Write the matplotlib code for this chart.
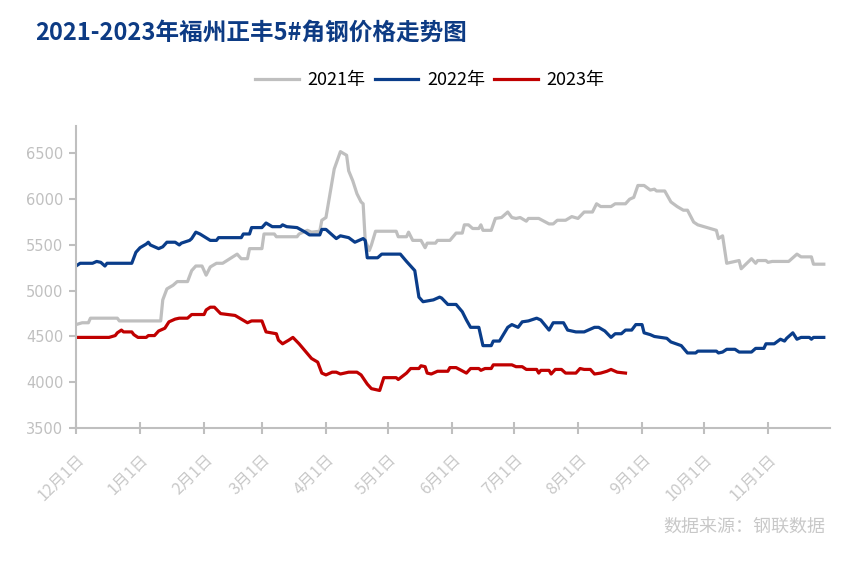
import pandas as pd
import matplotlib
matplotlib.use('Agg')
import matplotlib.pyplot as plt

plt.rcParams['font.family'] = ['Noto Sans CJK SC', 'DejaVu Sans']

# 各年度价格（12月1日 至 次年11月底），日期为 月-日
dates_2021 = ['12-01', '12-04', '12-07', '12-08', '12-21', '12-22', '01-11', '01-12', '01-14', '01-17',
              '01-19', '01-24', '01-26', '01-28', '01-31', '02-02', '02-04', '02-07', '02-10', '02-17',
              '02-19', '02-22', '02-23', '03-01', '03-02', '03-07', '03-08', '03-18', '03-19', '03-23',
              '03-25', '03-29', '03-30', '04-01', '04-05', '04-08', '04-11', '04-12', '04-14', '04-16',
              '04-18', '04-19', '04-20', '04-22', '04-23', '04-25', '05-05', '05-06', '05-10', '05-11',
              '05-13', '05-17', '05-19', '05-20', '05-24', '05-25', '05-31', '06-03', '06-06', '06-07',
              '06-09', '06-11', '06-14', '06-15', '06-16', '06-20', '06-22', '06-25', '06-28', '06-30',
              '07-02', '07-04', '07-07', '07-08', '07-13', '07-18', '07-20', '07-22', '07-26', '07-29',
              '08-01', '08-04', '08-08', '08-10', '08-12', '08-17', '08-19', '08-24', '08-26', '08-28',
              '08-30', '09-02', '09-05', '09-07', '09-08', '09-12', '09-15', '09-18', '09-21', '09-23',
              '09-26', '09-28', '10-07', '10-08', '10-10', '10-12', '10-14', '10-18', '10-19', '10-24',
              '10-26', '10-27', '10-31', '11-01', '11-03', '11-11', '11-15', '11-17', '11-22', '11-23',
              '11-28']
price_2021 = [4630, 4650, 4650, 4700, 4700, 4670, 4670, 4900, 5020, 5060,
              5100, 5100, 5220, 5270, 5270, 5170, 5260, 5300, 5300, 5400,
              5350, 5350, 5460, 5460, 5620, 5620, 5590, 5590, 5620, 5660,
              5640, 5650, 5770, 5800, 6330, 6520, 6480, 6310, 6200, 6060,
              5970, 5950, 5550, 5440, 5500, 5650, 5650, 5590, 5590, 5640,
              5550, 5550, 5470, 5520, 5520, 5550, 5550, 5630, 5630, 5720,
              5720, 5680, 5680, 5720, 5660, 5660, 5790, 5800, 5860, 5800,
              5790, 5800, 5760, 5790, 5790, 5730, 5730, 5770, 5770, 5810,
              5790, 5860, 5860, 5950, 5920, 5920, 5950, 5950, 6000, 6020,
              6150, 6150, 6100, 6110, 6090, 6090, 5970, 5920, 5880, 5880,
              5750, 5720, 5660, 5570, 5600, 5300, 5310, 5330, 5240, 5350,
              5300, 5330, 5330, 5310, 5320, 5320, 5400, 5370, 5370, 5290,
              5290]

dates_2022 = ['12-01', '12-03', '12-09', '12-11', '12-13', '12-15', '12-16', '12-28', '12-30', '01-01',
              '01-04', '01-05', '01-06', '01-10', '01-12', '01-14', '01-18', '01-20', '01-21', '01-25',
              '01-26', '01-28', '01-30', '02-04', '02-07', '02-08', '02-19', '02-20', '02-23', '02-24',
              '03-01', '03-03', '03-06', '03-10', '03-11', '03-13', '03-18', '03-22', '03-24', '03-29',
              '03-30', '04-01', '04-06', '04-08', '04-12', '04-15', '04-19', '04-20', '04-21', '04-26',
              '04-28', '05-07', '05-10', '05-14', '05-16', '05-18', '05-23', '05-26', '05-27', '05-30',
              '06-03', '06-06', '06-08', '06-10', '06-14', '06-16', '06-20', '06-21', '06-24', '06-28',
              '06-30', '07-03', '07-05', '07-08', '07-12', '07-14', '07-18', '07-20', '07-25', '07-27',
              '07-31', '08-04', '08-09', '08-11', '08-14', '08-17', '08-19', '08-22', '08-24', '08-27',
              '08-29', '09-01', '09-02', '09-05', '09-07', '09-13', '09-15', '09-20', '09-23', '09-27',
              '09-28', '10-07', '10-08', '10-10', '10-12', '10-16', '10-18', '10-24', '10-26', '10-30',
              '10-31', '11-04', '11-07', '11-09', '11-10', '11-13', '11-15', '11-17', '11-21', '11-22',
              '11-23', '11-28']
price_2022 = [5270, 5300, 5300, 5320, 5310, 5270, 5300, 5300, 5420, 5470,
              5510, 5530, 5500, 5460, 5480, 5530, 5530, 5500, 5520, 5550,
              5570, 5640, 5620, 5550, 5550, 5580, 5580, 5620, 5620, 5690,
              5690, 5740, 5700, 5700, 5720, 5700, 5690, 5640, 5610, 5610,
              5670, 5670, 5570, 5600, 5580, 5530, 5570, 5550, 5360, 5360,
              5400, 5400, 5320, 5220, 4930, 4880, 4900, 4930, 4920, 4850,
              4850, 4770, 4680, 4600, 4600, 4400, 4400, 4450, 4450, 4600,
              4630, 4600, 4660, 4670, 4700, 4680, 4570, 4650, 4650, 4570,
              4550, 4550, 4600, 4600, 4560, 4490, 4530, 4530, 4570, 4570,
              4630, 4630, 4540, 4520, 4500, 4480, 4440, 4400, 4320, 4320,
              4340, 4340, 4320, 4330, 4360, 4360, 4330, 4330, 4370, 4370,
              4420, 4420, 4470, 4450, 4480, 4540, 4470, 4490, 4490, 4470,
              4490, 4490]

dates_2023 = ['12-01', '12-17', '12-20', '12-21', '12-23', '12-24', '12-28', '12-29', '12-31', '01-04',
              '01-05', '01-08', '01-10', '01-13', '01-15', '01-18', '01-20', '01-24', '01-26', '02-01',
              '02-02', '02-04', '02-06', '02-09', '02-16', '02-19', '02-22', '02-24', '03-01', '03-03',
              '03-08', '03-09', '03-11', '03-14', '03-16', '03-19', '03-22', '03-25', '03-28', '03-30',
              '04-01', '04-04', '04-06', '04-08', '04-12', '04-16', '04-18', '04-21', '04-23', '04-27',
              '04-29', '05-05', '05-06', '05-10', '05-12', '05-16', '05-17', '05-19', '05-20', '05-22',
              '05-25', '05-30', '05-31', '06-03', '06-08', '06-10', '06-14', '06-15', '06-17', '06-20',
              '06-21', '06-30', '07-02', '07-05', '07-07', '07-12', '07-13', '07-14', '07-18', '07-19',
              '07-21', '07-24', '07-26', '07-31', '08-02', '08-04', '08-07', '08-09', '08-12', '08-15',
              '08-17', '08-20', '08-24']
price_2023 = [4490, 4490, 4510, 4540, 4570, 4550, 4550, 4520, 4490, 4490,
              4510, 4510, 4560, 4590, 4660, 4690, 4700, 4700, 4740, 4740,
              4790, 4820, 4820, 4750, 4730, 4690, 4650, 4670, 4670, 4550,
              4530, 4460, 4420, 4460, 4490, 4420, 4340, 4260, 4220, 4100,
              4080, 4110, 4110, 4090, 4110, 4110, 4080, 3980, 3930, 3910,
              4050, 4050, 4030, 4100, 4150, 4150, 4180, 4170, 4100, 4090,
              4120, 4120, 4160, 4160, 4100, 4150, 4150, 4130, 4150, 4150,
              4190, 4190, 4170, 4170, 4140, 4140, 4100, 4130, 4130, 4090,
              4140, 4140, 4100, 4100, 4150, 4140, 4140, 4090, 4100, 4120,
              4140, 4110, 4100]

month_ticks = [12, 1, 2, 3, 4, 5, 6, 7, 8, 9, 10, 11]
tick_labels = [f'{m}月1日' for m in month_ticks]

START = pd.Timestamp('2021-12-01')


def to_offset(md: str) -> int:
    m, d = [int(s) for s in md.split('-')]
    year = 2021 if m == 12 else 2022
    return (pd.Timestamp(year=year, month=m, day=d) - START).days


def main():
    fig = plt.figure(figsize=(8.6, 5.62), dpi=100)
    ax = fig.add_axes([76 / 860, 1 - 428 / 562, 754 / 860, 302 / 562])

    series = [('2021年', dates_2021, price_2021, '#bfbfbf'),
              ('2022年', dates_2022, price_2022, '#0a3d8a'),
              ('2023年', dates_2023, price_2023, '#c00000')]
    for name, dates, prices, color in series:
        x = [to_offset(d) for d in dates]
        ax.plot(x, prices, color=color, lw=2.3, label=name, solid_joinstyle='round')

    ax.set_xlim(0, 365)
    ax.set_ylim(3500, 6800)
    ax.set_yticks(range(3500, 7000, 500))
    ticks = [to_offset(f'{m:02d}-01') for m in month_ticks]
    ax.set_xticks(ticks)
    ax.set_xticklabels(tick_labels, rotation=45, ha='right', va='top',
                       rotation_mode='anchor', fontsize=11.5, color='#c8c8c8')
    for lab in ax.get_yticklabels():
        lab.set_family('DejaVu Sans')
        lab.set_fontsize(10.5)
        lab.set_color('#c0c0c0')

    for side in ['top', 'right']:
        ax.spines[side].set_visible(False)
    for side in ['left', 'bottom']:
        ax.spines[side].set_color('#bfbfbf')
        ax.spines[side].set_linewidth(1.5)
    ax.tick_params(axis='y', direction='out', length=5, width=1.5, color='#bfbfbf', pad=4)
    ax.tick_params(axis='x', direction='inout', length=9, width=1.5, color='#bfbfbf', pad=12)

    fig.text(35 / 860, 1 - 33 / 562, '2021-2023年福州正丰5#角钢价格走势图', fontsize=17,
             fontweight='bold', color='#0d3b84', va='center', ha='left')
    fig.legend(loc='center', bbox_to_anchor=(430 / 860, 1 - 80 / 562), ncol=3, frameon=False,
               fontsize=13, handlelength=2.4, columnspacing=0.5, handletextpad=0.5)
    fig.text(825 / 860, 1 - 527 / 562, '数据来源：钢联数据', fontsize=13, color='#c8c8c8',
             ha='right', va='center')

    fig.savefig('out.png', dpi=100)


if __name__ == '__main__':
    main()
